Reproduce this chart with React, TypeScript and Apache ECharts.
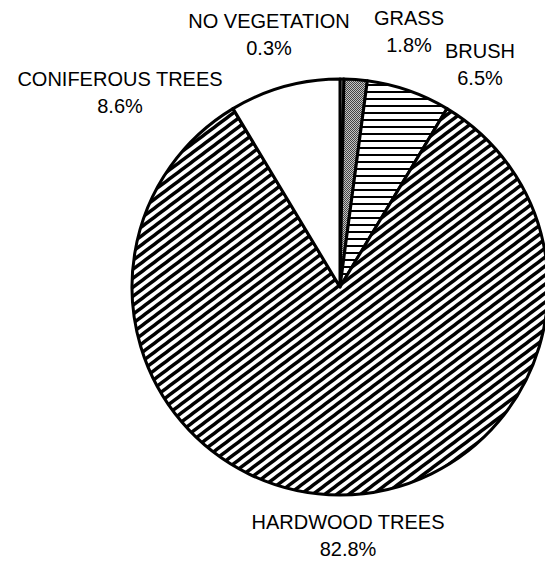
import React, { useEffect, useRef } from "react";
import * as echarts from "echarts";

const categories = ["NO VEGETATION", "GRASS", "BRUSH", "HARDWOOD TREES", "CONIFEROUS TREES"];
const percents = [0.3, 1.8, 6.5, 82.8, 8.6];

// label centres (layout only)
const labelPos: [number, number][] = [
  [269, 34],
  [409, 31],
  [480, 64],
  [348, 535],
  [120, 92],
];

function makeTile(kind: string): HTMLCanvasElement {
  const c = document.createElement("canvas");
  const ctx = c.getContext("2d")!;
  if (kind === "diag") {
    const w = 12, h = 9;
    c.width = w; c.height = h;
    ctx.fillStyle = "#fff";
    ctx.fillRect(0, 0, w, h);
    ctx.strokeStyle = "#000";
    ctx.lineWidth = 3.4;
    for (let n = -2; n <= 2; n++) {
      ctx.beginPath();
      ctx.moveTo(-w, (n + 2) * h);
      ctx.lineTo(2 * w, (n - 1) * h);
      ctx.stroke();
    }
  } else if (kind === "horiz") {
    c.width = 8; c.height = 7;
    ctx.fillStyle = "#fff";
    ctx.fillRect(0, 0, 8, 7);
    ctx.fillStyle = "#000";
    ctx.fillRect(0, 0, 8, 2);
  } else if (kind === "dots") {
    c.width = 2; c.height = 2;
    ctx.fillStyle = "#c4c4c4";
    ctx.fillRect(0, 0, 2, 2);
    ctx.fillStyle = "#444";
    ctx.fillRect(0, 0, 1, 1);
    ctx.fillRect(1, 1, 1, 1);
  } else {
    c.width = 2; c.height = 2;
    ctx.fillStyle = "#fff";
    ctx.fillRect(0, 0, 2, 2);
  }
  return c;
}

export default function App() {
  const ref = useRef<HTMLDivElement>(null);
  useEffect(() => {
    if (!ref.current) return;
    const chart = echarts.init(ref.current, undefined, { renderer: "svg" });
    const kinds = ["white", "dots", "horiz", "diag", "white"];
    const fills = kinds.map((k) => {
      if (k === "white") return "#ffffff";
      const t = makeTile(k);
      return { image: t, repeat: "repeat", imageWidth: t.width, imageHeight: t.height } as any;
    });
    chart.setOption({
      animation: false,
      backgroundColor: "#fff",
      series: [
        {
          type: "pie",
          center: [340, 287],
          radius: [0, 208],
          startAngle: 90,
          clockwise: true,
          avoidLabelOverlap: false,
          itemStyle: { borderColor: "#000", borderWidth: 3 },
          label: {
            show: true,
            formatter: "{b}\n{c}%",
            fontFamily: "Liberation Sans, Arial, sans-serif",
            fontSize: 20,
            lineHeight: 27,
            color: "#000",
            align: "center",
          },
          labelLine: { show: false },
          labelLayout: (p: any) => ({
            x: labelPos[p.dataIndex][0],
            y: labelPos[p.dataIndex][1],
            align: "center",
            verticalAlign: "middle",
          }),
          emphasis: { disabled: true },
          data: categories.map((name, i) => ({
            name,
            value: percents[i],
            itemStyle: { color: fills[i] },
          })),
        },
      ],
    });
    return () => chart.dispose();
  }, []);
  return (
    <div
      ref={ref}
      style={{ position: "absolute", left: 0, top: 0, width: 545, height: 563 }}
    />
  );
}
